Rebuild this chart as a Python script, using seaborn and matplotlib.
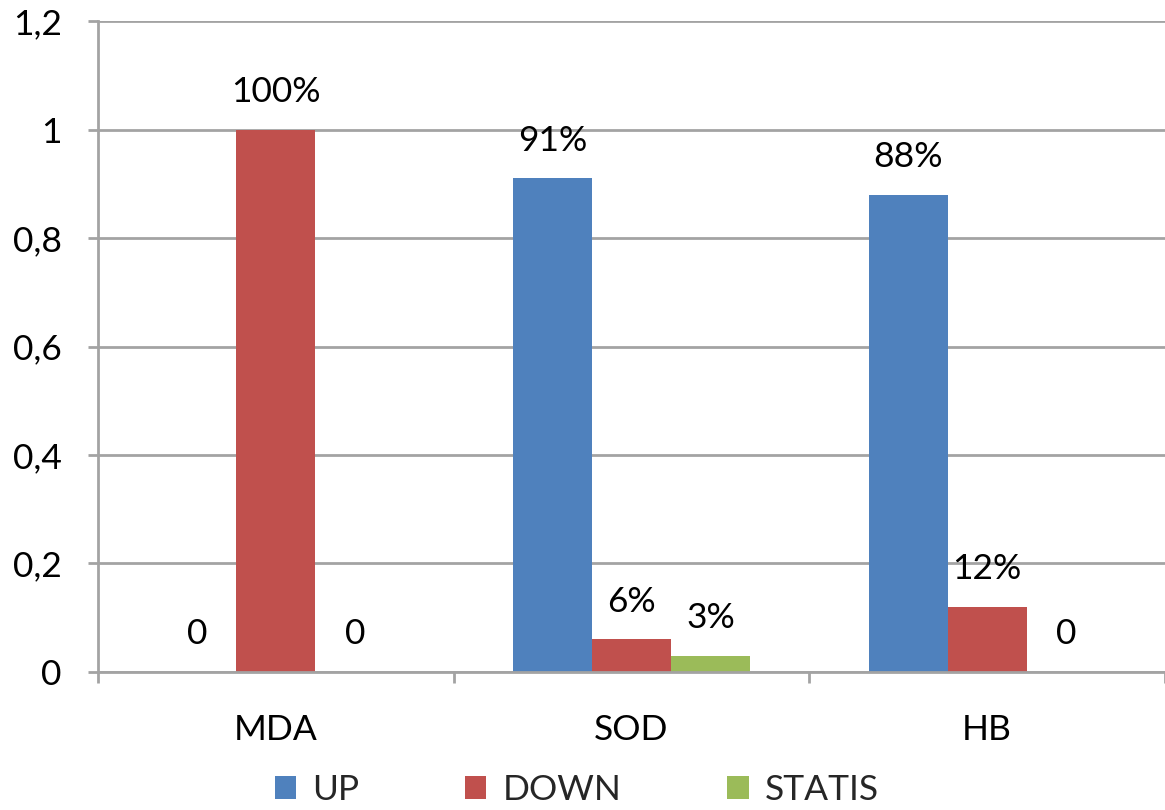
import matplotlib
matplotlib.use("Agg")
import matplotlib.pyplot as plt
from matplotlib.ticker import FuncFormatter, FixedLocator
import seaborn as sns
import pandas as pd

# Share of responses per marker
markers = ["MDA", "SOD", "HB"]
series = ["UP", "DOWN", "STATIS"]
up_values = [0.0, 0.91, 0.88]
down_values = [1.0, 0.06, 0.12]
statis_values = [0.0, 0.03, 0.0]
y_ticks = [0, 0.2, 0.4, 0.6, 0.8, 1.0, 1.2]

colors = {"UP": "#4F81BD", "DOWN": "#C0504D", "STATIS": "#9BBB59"}
grid_color = "#A3A3A3"
font_size = 25.5

df = pd.DataFrame({
    "marker": markers * 3,
    "series": ["UP"] * 3 + ["DOWN"] * 3 + ["STATIS"] * 3,
    "value": up_values + down_values + statis_values,
})

sns.set_theme(style="white")
plt.rcParams["font.family"] = ["Lato", "DejaVu Sans"]

fig = plt.figure(figsize=(11.65, 8.1), dpi=100)
ax = fig.add_axes([0.0841, 0.1704, 0.9159, 0.8036])

sns.barplot(data=df, x="marker", y="value", hue="series", order=markers,
            hue_order=series, palette=colors, width=0.666, gap=0,
            linewidth=0, saturation=1, ax=ax)

ax.set_xlim(-0.5, 2.5)
ax.set_ylim(0, 1.2)
ax.yaxis.set_major_locator(FixedLocator(y_ticks))
ax.yaxis.set_major_formatter(FuncFormatter(lambda v, _: f"{v:g}".replace(".", ",")))
ax.grid(axis="y", color=grid_color, linewidth=2)
ax.set_axisbelow(True)

for side in ["top", "right"]:
    ax.spines[side].set_visible(False)
for side in ["left", "bottom"]:
    ax.spines[side].set_color(grid_color)
    ax.spines[side].set_linewidth(2)

ax.tick_params(axis="y", which="major", left=True, length=7, width=2,
               color=grid_color, pad=19, labelsize=font_size, labelcolor="black")
ax.set_xticks([-0.5, 0.5, 1.5, 2.5], minor=True)
ax.tick_params(axis="x", which="minor", bottom=True, length=8, width=2,
               color=grid_color, direction="out")
ax.tick_params(axis="x", which="major", length=0, pad=30, labelsize=font_size,
               labelcolor="black")
ax.set_xlabel("")
ax.set_ylabel("")

# Value labels above each bar
for container in ax.containers:
    for rect in container:
        v = rect.get_height()
        label = f"{round(v * 100)}%" if v > 0 else "0"
        ax.annotate(label, (rect.get_x() + rect.get_width() / 2, v),
                    xytext=(0, 27), textcoords="offset points",
                    ha="center", va="center", fontsize=font_size, color="black",
                    annotation_clip=False)

sns.move_legend(ax, "center", bbox_to_anchor=(0.495, 0.025),
                bbox_transform=fig.transFigure, ncol=3, frameon=False,
                title=None, fontsize=font_size, handlelength=0.6,
                handleheight=0.6, handletextpad=0.45, columnspacing=3.0)

fig.savefig("out.png", dpi=100)
